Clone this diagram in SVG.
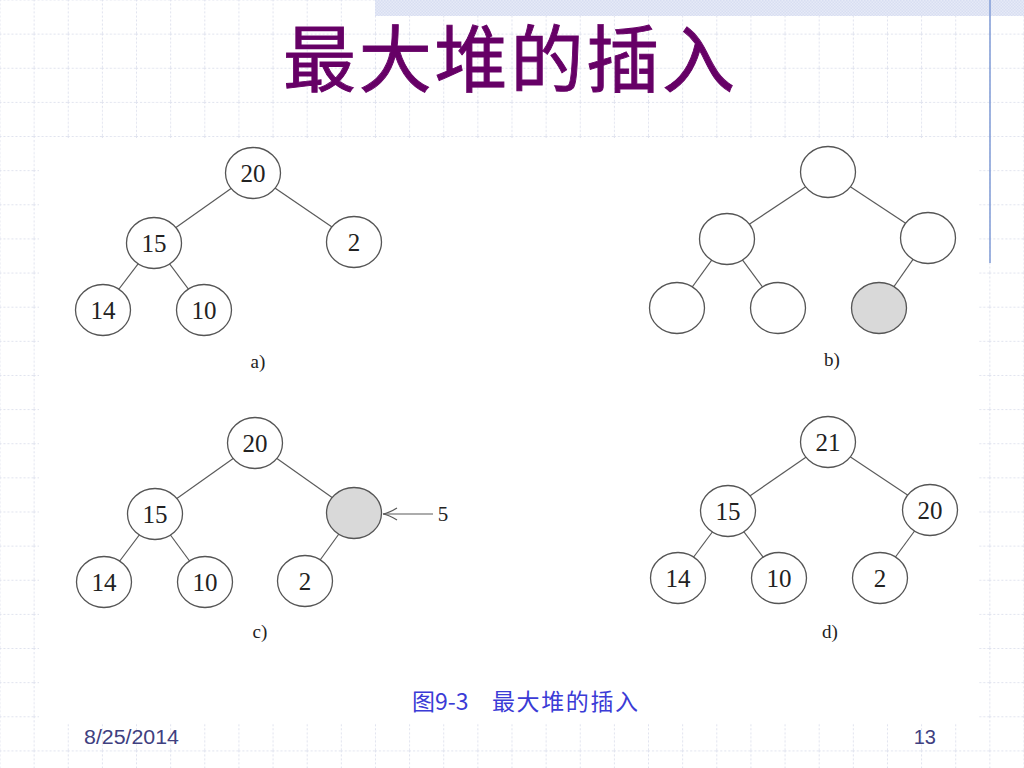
<svg xmlns="http://www.w3.org/2000/svg" width="1024" height="768" viewBox="0 0 1024 768">
<defs>
<pattern id="grid" patternUnits="userSpaceOnUse" x="-0.5" y="-0.5" width="34.1333" height="34.1333">
<path d="M0.5,0 V34.1333 M0,0.5 H34.1333" fill="none" stroke="#dfe2ee" stroke-width="1" stroke-dasharray="2 2"/>
</pattern>
<pattern id="check" patternUnits="userSpaceOnUse" width="3" height="3">
<rect width="3" height="3" fill="#e6eaf7"/>
<rect width="1.5" height="1.5" fill="#d8def2"/>
<rect x="1.5" y="1.5" width="1.5" height="1.5" fill="#d8def2"/>
</pattern>
<style>
.n{fill:#fff;stroke:#555;stroke-width:1.3}
.g{fill:#d9d9d9;stroke:#555;stroke-width:1.3}
.e{stroke:#5a5a5a;stroke-width:1.2;fill:none}
.t{font-family:"Liberation Serif","Times New Roman",serif;font-size:25px;fill:#222;text-anchor:middle}
.l{font-family:"Liberation Serif","Times New Roman",serif;font-size:19px;fill:#222;text-anchor:middle}
</style>
</defs>
<rect width="1024" height="768" fill="#fff"/>
<rect width="1024" height="768" fill="url(#grid)"/>
<rect x="375" y="0" width="649" height="16" fill="url(#check)"/>
<line x1="990" y1="0" x2="990" y2="263" stroke="#86a0d8" stroke-width="1.6"/>
<rect x="39" y="138" width="940" height="585" fill="#fff"/>

<text x="509" y="86" font-family="'Noto Sans CJK SC','Noto Sans CJK TC',sans-serif" font-size="73" font-weight="400" fill="#660066" stroke="#660066" stroke-width="0.9" text-anchor="middle" textLength="452" lengthAdjust="spacing">最大堆的插入</text>

<g id="connectors">
<line class="e" x1="253" y1="173" x2="154" y2="243"/>
<line class="e" x1="253" y1="173" x2="354" y2="242"/>
<line class="e" x1="154" y1="243" x2="103" y2="310"/>
<line class="e" x1="154" y1="243" x2="204" y2="310"/>
<line class="e" x1="828" y1="172" x2="727" y2="239"/>
<line class="e" x1="828" y1="172" x2="928" y2="238"/>
<line class="e" x1="727" y1="239" x2="677" y2="308"/>
<line class="e" x1="727" y1="239" x2="778" y2="308"/>
<line class="e" x1="928" y1="238" x2="879" y2="308"/>
<line class="e" x1="255" y1="443" x2="155" y2="514"/>
<line class="e" x1="255" y1="443" x2="354" y2="513"/>
<line class="e" x1="155" y1="514" x2="104" y2="582"/>
<line class="e" x1="155" y1="514" x2="205" y2="582"/>
<line class="e" x1="354" y1="513" x2="305" y2="581"/>
<line class="e" x1="383" y1="514" x2="433" y2="514"/>
<path class="e" d="M397,508 Q389,513 383,514 Q389,515 397,520"/>
<line class="e" x1="828" y1="442" x2="728" y2="511"/>
<line class="e" x1="828" y1="442" x2="930" y2="510"/>
<line class="e" x1="728" y1="511" x2="678" y2="578"/>
<line class="e" x1="728" y1="511" x2="779" y2="578"/>
<line class="e" x1="930" y1="510" x2="880" y2="578"/>
</g>

<g id="a-20"><ellipse class="n" cx="253" cy="173" rx="27.5" ry="25.5"/><text class="t" x="253" y="181.5">20</text></g>
<g id="a-15"><ellipse class="n" cx="154" cy="243" rx="27.5" ry="25.5"/><text class="t" x="154" y="251.5">15</text></g>
<g id="a-2"><ellipse class="n" cx="354" cy="242" rx="27.5" ry="25.5"/><text class="t" x="354" y="250.5">2</text></g>
<g id="a-14"><ellipse class="n" cx="103" cy="310" rx="27.5" ry="25.5"/><text class="t" x="103" y="318.5">14</text></g>
<g id="a-10"><ellipse class="n" cx="204" cy="310" rx="27.5" ry="25.5"/><text class="t" x="204" y="318.5">10</text></g>
<text class="l" x="258" y="368">a)</text>

<g id="b-root"><ellipse class="n" cx="828" cy="172" rx="27.5" ry="25.5"/></g>
<g id="b-l"><ellipse class="n" cx="727" cy="239" rx="27.5" ry="25.5"/></g>
<g id="b-r"><ellipse class="n" cx="928" cy="238" rx="27.5" ry="25.5"/></g>
<g id="b-ll"><ellipse class="n" cx="677" cy="308" rx="27.5" ry="25.5"/></g>
<g id="b-lr"><ellipse class="n" cx="778" cy="308" rx="27.5" ry="25.5"/></g>
<g id="b-new"><ellipse class="g" cx="879" cy="308" rx="27.5" ry="25.5"/></g>
<text class="l" x="832" y="366">b)</text>

<g id="c-20"><ellipse class="n" cx="255" cy="443" rx="27.5" ry="25.5"/><text class="t" x="255" y="451.5">20</text></g>
<g id="c-15"><ellipse class="n" cx="155" cy="514" rx="27.5" ry="25.5"/><text class="t" x="155" y="522.5">15</text></g>
<g id="c-new"><ellipse class="g" cx="354" cy="513" rx="27.5" ry="25.5"/></g>
<g id="c-14"><ellipse class="n" cx="104" cy="582" rx="27.5" ry="25.5"/><text class="t" x="104" y="590.5">14</text></g>
<g id="c-10"><ellipse class="n" cx="205" cy="582" rx="27.5" ry="25.5"/><text class="t" x="205" y="590.5">10</text></g>
<g id="c-2"><ellipse class="n" cx="305" cy="581" rx="27.5" ry="25.5"/><text class="t" x="305" y="589.5">2</text></g>
<text x="443" y="521" font-family="'Liberation Serif','Times New Roman',serif" font-size="21" fill="#222" text-anchor="middle">5</text>
<text class="l" x="260" y="638">c)</text>

<g id="d-21"><ellipse class="n" cx="828" cy="442" rx="27.5" ry="25.5"/><text class="t" x="828" y="450.5">21</text></g>
<g id="d-15"><ellipse class="n" cx="728" cy="511" rx="27.5" ry="25.5"/><text class="t" x="728" y="519.5">15</text></g>
<g id="d-20"><ellipse class="n" cx="930" cy="510" rx="27.5" ry="25.5"/><text class="t" x="930" y="518.5">20</text></g>
<g id="d-14"><ellipse class="n" cx="678" cy="578" rx="27.5" ry="25.5"/><text class="t" x="678" y="586.5">14</text></g>
<g id="d-10"><ellipse class="n" cx="779" cy="578" rx="27.5" ry="25.5"/><text class="t" x="779" y="586.5">10</text></g>
<g id="d-2"><ellipse class="n" cx="880" cy="578" rx="27.5" ry="25.5"/><text class="t" x="880" y="586.5">2</text></g>
<text class="l" x="830" y="638">d)</text>

<g font-family="'Noto Sans CJK SC','Noto Sans CJK TC',sans-serif" font-size="23" fill="#3b3bd6">
<text x="412" y="710">图9-3</text>
<text x="492" y="710" textLength="146" lengthAdjust="spacing">最大堆的插入</text>
</g>

<g font-family="'Liberation Sans',Arial,sans-serif" font-size="20" fill="#404080">
<text x="84" y="744" textLength="95" lengthAdjust="spacingAndGlyphs">8/25/2014</text>
<text x="936" y="744" text-anchor="end">13</text>
</g>
</svg>
